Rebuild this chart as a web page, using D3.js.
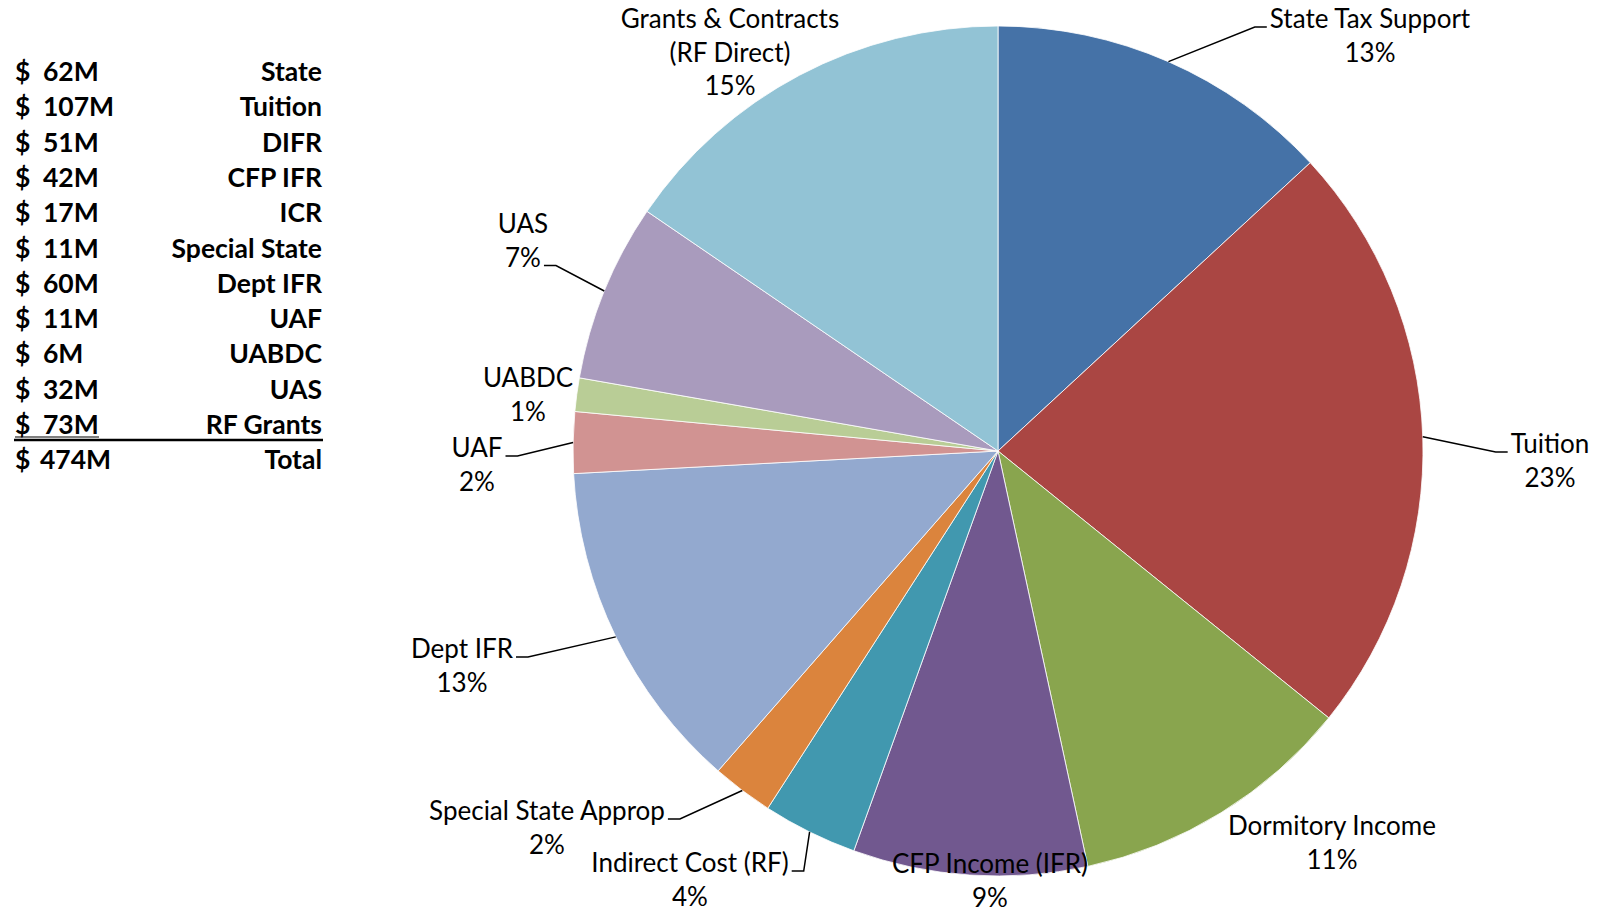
<!DOCTYPE html>
<html>
<head>
<meta charset="utf-8">
<script src="https://cdn.jsdelivr.net/npm/d3@7"></script>
<style>
  body { margin: 0; background: #fff; }
  svg { display: block; }
</style>
</head>
<body>
<div id="chart"></div>
<script>
// Revenue sources pie + summary table on the left

// pie slices, clockwise from 12 o'clock (values in $M)
const sliceNames = [
    ["State Tax Support"],
    ["Tuition"],
    ["Dormitory Income"],
    ["CFP Income  (IFR)"],
    ["Indirect Cost (RF)"],
    ["Special State Approp"],
    ["Dept IFR"],
    ["UAF"],
    ["UABDC"],
    ["UAS"],
    ["Grants & Contracts", "(RF Direct)"]
];
const sliceValues = [62, 107, 51, 42, 17, 11, 60, 11, 6, 32, 73];
const sliceColors = ["#4572A7", "#AA4643", "#89A54E", "#71588F", "#4198AF", "#DB843D",
                     "#93A9CF", "#D19392", "#B9CD96", "#A99BBD", "#92C3D5"];

// summary table
const tableAmounts = ["62M", "107M", "51M", "42M", "17M", "11M", "60M", "11M", "6M", "32M", "73M"];
const tableNames = ["State", "Tuition", "DIFR", "CFP IFR", "ICR", "Special State", "Dept IFR",
                    "UAF", "UABDC", "UAS", "RF Grants"];
const totalAmount = "474M";
const totalName = "Total";

// label placement (Excel "best fit" spots): [center x, first baseline, leader side, leader line]
const labelLayout = [
    [1370, 28, "left", 0],
    [1550, 453, "left", 0],
    [1332, 835, null],
    [990, 873, null],
    [690, 872, "right", 0],
    [547, 820, "right", 0],
    [462, 658, "right", 0],
    [477, 457, "right", 0],
    [528, 387, null],
    [523, 233, "right", 1],
    [730, 28, null]
];

const width = 1602;
const height = 910;
const cx = 998, cy = 451, radius = 425;
const lineGap = 33.5;
const labelFont = "Lato, 'Open Sans', sans-serif";

const svg = d3.select("#chart")
    .append("svg")
    .attr("width", width)
    .attr("height", height);

// ---- pie ----
const pie = d3.pie().sort(null).value(d => d);
const arcs = pie(sliceValues);
const total = d3.sum(sliceValues);

const arc = d3.arc().innerRadius(0).outerRadius(radius);

const pieG = svg.append("g")
    .attr("transform", `translate(${cx}, ${cy})`);

pieG.selectAll("path.slice")
    .data(arcs)
    .enter()
    .append("path")
    .attr("class", "slice")
    .attr("d", arc)
    .attr("fill", (d, i) => sliceColors[i])
    .attr("stroke", "#ffffff")
    .attr("stroke-width", 0.8);

// ---- data labels ----
const labelG = svg.append("g")
    .style("font-family", labelFont)
    .style("font-size", "26px")
    .style("fill", "#000");

arcs.forEach((d, i) => {
    const [lx, ly, side, leaderLine] = labelLayout[i];
    const pct = Math.round(d.value / total * 100) + "%";
    const lines = sliceNames[i].concat([pct]);

    const texts = lines.map((t, j) => labelG.append("text")
        .attr("x", lx)
        .attr("y", ly + j * lineGap)
        .attr("text-anchor", "middle")
        .text(t));

    if (side) {
        const w = texts[leaderLine].node().getComputedTextLength();
        const yLine = ly + leaderLine * lineGap - 1;
        const mid = (d.startAngle + d.endAngle) / 2;
        const ax = cx + radius * Math.sin(mid);
        const ay = cy - radius * Math.cos(mid);
        let x0, x1;
        if (side === "left") {
            x0 = lx - w / 2 - 3;
            x1 = x0 - 12;
        } else {
            x0 = lx + w / 2 + 3;
            x1 = x0 + 12;
        }
        svg.append("path")
            .attr("d", d3.line()([[x0, yLine], [x1, yLine], [ax, ay]]))
            .attr("fill", "none")
            .attr("stroke", "#000")
            .attr("stroke-width", 1.5);
    }
});

// ---- summary table ----
const tableG = svg.append("g")
    .style("font-family", labelFont)
    .style("font-size", "26.5px")
    .style("font-weight", "bold")
    .style("fill", "#000");

const rowY = d3.scaleLinear().domain([0, 1]).range([81, 116.3]);

tableNames.forEach((name, i) => {
    tableG.append("text").attr("x", 15).attr("y", rowY(i)).text("$");
    tableG.append("text").attr("x", 43).attr("y", rowY(i)).text(tableAmounts[i]);
    tableG.append("text").attr("x", 322).attr("y", rowY(i))
        .attr("text-anchor", "end").text(name);
});

const totalRow = tableNames.length;
tableG.append("text").attr("x", 15).attr("y", rowY(totalRow)).text("$");
tableG.append("text").attr("x", 40).attr("y", rowY(totalRow)).text(totalAmount);
tableG.append("text").attr("x", 322).attr("y", rowY(totalRow))
    .attr("text-anchor", "end").text(totalName);

// underline of last amount + total rule
const lastY = rowY(totalRow - 1);
svg.append("line")
    .attr("x1", 15).attr("x2", 99)
    .attr("y1", lastY + 3).attr("y2", lastY + 3)
    .attr("stroke", "#000").attr("stroke-width", 1.2);
svg.append("line")
    .attr("x1", 14).attr("x2", 323)
    .attr("y1", lastY + 6).attr("y2", lastY + 6)
    .attr("stroke", "#000").attr("stroke-width", 2.5);
</script>
</body>
</html>
